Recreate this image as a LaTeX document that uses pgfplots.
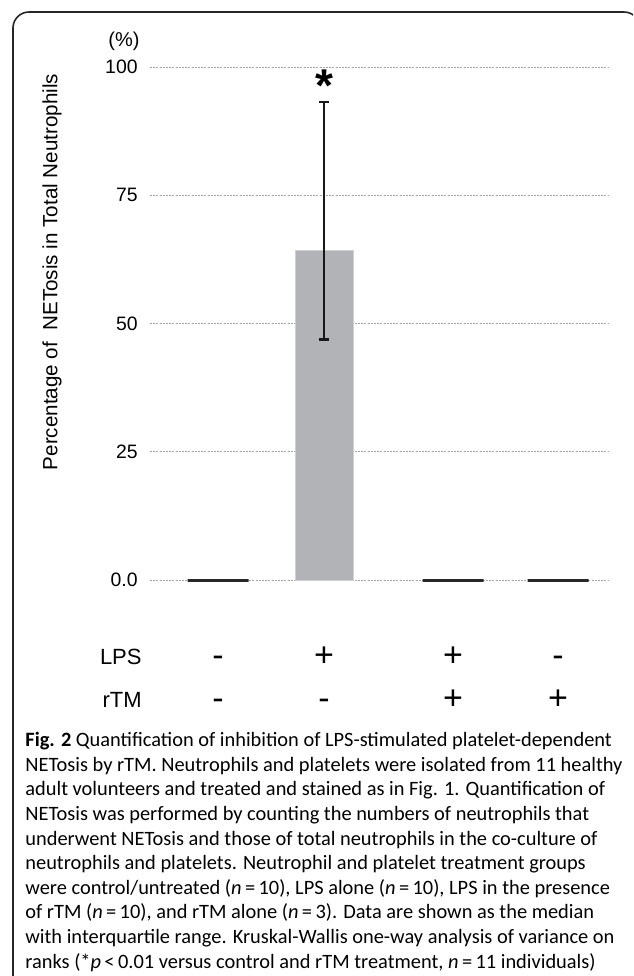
\documentclass[border=0pt]{standalone}
\usepackage{pgfplots}
\pgfplotsset{compat=1.18}
\usepackage{fontspec}
\setmainfont{Liberation Sans}
\newfontfamily\capfont{Carlito}

\definecolor{barfill}{RGB}{178,179,182}
\definecolor{gridgray}{RGB}{165,165,165}
\definecolor{medline}{RGB}{40,40,40}

\begin{document}
\begin{tikzpicture}
\useasboundingbox (0,0) rectangle (316.5pt,-488pt);
\begin{scope}
\clip (0,0) rectangle (316.5pt,-488pt);
\draw[black!85, line width=0.8pt, rounded corners=8pt] (6.5pt,-6pt) rectangle (320pt,-520pt);
\end{scope}

\begin{axis}[
  scale only axis, width=229pt, height=256.5pt,
  at={(75pt,-290pt)}, anchor=south west,
  xmin=0, xmax=4.58, ymin=0, ymax=100,
  axis line style={draw=none},
  major tick length=0pt,
  ytick={0,25,50,75,100},
  yticklabels={0.0,25,50,75,100},
  yticklabel style={font=\fontsize{9.7}{11}\selectfont, inner sep=0pt, xshift=-6pt},
  xtick={0.68,1.74,3.03,4.08},
  xticklabels={{\strut-\\\strut-},{\strut+\\\strut-},{\strut+\\\strut+},{\strut-\\\strut+}},
  xticklabel style={font=\fontsize{17}{21.5}\selectfont, align=center, inner sep=0pt, yshift=-28.2pt},
  ymajorgrids,
  grid style={gridgray, line width=0.5pt, dash pattern=on 1pt off 0.6pt},
  clip=false,
]
% LPS alone: median bar
\addplot[ybar, bar width=29pt, bar shift=0pt, fill=barfill, draw=barfill!60!white, line width=0.4pt]
  coordinates {(1.74,64.2)};
% interquartile range (25th to 75th percentile)
\addplot[black!90, line width=1.3pt, mark=-, mark size=2.6pt, mark options={line width=1.3pt}]
  coordinates {(1.74,46.9) (1.74,93.2)};
% control, LPS+rTM, rTM alone: median 0
\addplot[ybar, bar width=30.5pt, bar shift=0pt, fill=none, draw=medline, line width=1.5pt]
  coordinates {(0.68,0) (3.03,0) (4.08,0)};
\node[font=\bfseries\fontsize{23}{23}\selectfont, inner sep=0pt, yshift=-5pt] at (axis cs:1.74,98.4) {*};
\end{axis}

\node[anchor=east, inner sep=0pt, font=\fontsize{10}{12}\selectfont] at (70pt,-20.5pt) {(\%)};
\node[rotate=90, inner sep=0pt, font=\fontsize{10.3}{12}\selectfont] at (26pt,-136pt) {Percentage of\ \ NETosis in Total Neutrophils};
\node[anchor=base east, inner sep=0pt, font=\fontsize{11}{13}\selectfont] at (71pt,-332.4pt) {LPS};
\node[anchor=base east, inner sep=0pt, font=\fontsize{11}{13}\selectfont] at (71pt,-353.9pt) {rTM};

\node[anchor=north west, inner sep=0pt, align=left, font=\capfont\fontsize{10.2}{12.3}\selectfont] at (12.5pt,-366pt) {%
\textbf{Fig. 2} Quantification of inhibition of LPS-stimulated platelet-dependent\\
NETosis by rTM. Neutrophils and platelets were isolated from 11 healthy\\
adult volunteers and treated and stained as in Fig. 1. Quantification of\\
NETosis was performed by counting the numbers of neutrophils that\\
underwent NETosis and those of total neutrophils in the co-culture of\\
neutrophils and platelets. Neutrophil and platelet treatment groups\\
were control/untreated (\textit{n}\,=\,10), LPS alone (\textit{n}\,=\,10), LPS in the presence\\
of rTM (\textit{n}\,=\,10), and rTM alone (\textit{n}\,=\,3). Data are shown as the median\\
with interquartile range. Kruskal-Wallis one-way analysis of variance on\\
ranks (*\textit{p}\,<\,0.01 versus control and rTM treatment, \textit{n}\,=\,11 individuals)};
\end{tikzpicture}
\end{document}
